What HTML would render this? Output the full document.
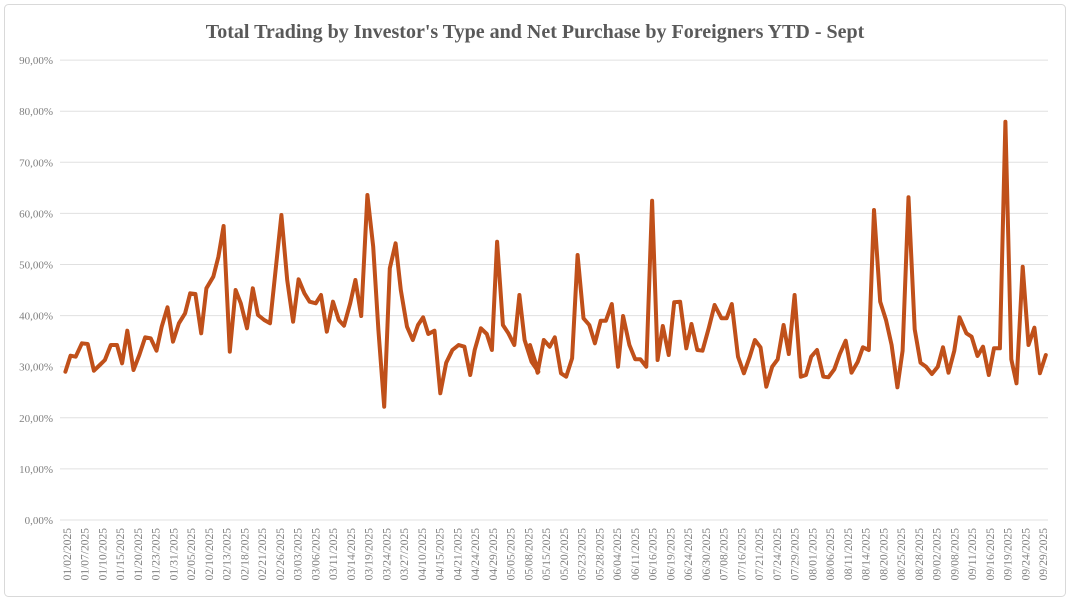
<!DOCTYPE html>
<html><head><meta charset="utf-8"><style>
html,body{margin:0;padding:0;background:#fff;width:1071px;height:602px;overflow:hidden}
svg{display:block}
</style></head><body>
<svg id="s" width="1071" height="602" xmlns="http://www.w3.org/2000/svg" font-family="Liberation Serif, serif">
<rect x="4.5" y="4.5" width="1061" height="592" rx="4" fill="#fff" stroke="#d9d9d9"/>
<text x="535" y="38" text-anchor="middle" font-size="20" font-weight="bold" fill="#595959">Total Trading by Investor's Type and Net Purchase by Foreigners YTD - Sept</text>
<g id="grid"></g><g id="xl"></g>
</svg>
<script>
var s=document.getElementById('grid'),h='';
for(var i=0;i<=9;i++){var y=520-i*51.1;
h+='<line x1="60" x2="1048" y1="'+y+'" y2="'+y+'" stroke="#e0e0e0" stroke-width="1"/>';
h+='<text x="53" y="'+(y+4)+'" text-anchor="end" font-size="11" fill="#7f7f7f">'+(i*10)+',00%</text>';}
var a=[190,575,205,527,220,530,238,490,255,492,273,572,290,555,305,540,322,495,340,495,355,550,370,452,388,570,405,525,422,472,438,475,455,512,470,440,487,382,503,485,520,430,538,400,553,340,568,342,585,460,600,325,620,290,635,230,650,138,668,515,685,330,700,370,718,445,735,325,750,405,768,420,785,430,818,105,835,300,852,425,868,298,885,340,900,365,918,370,933,345,950,455,968,365,985,420,1000,437,1018,370,1033,300,1050,408,1068,45,1085,200,1100,450,1117,680,1133,265,1150,190,1165,330,1183,440,1200,480,1215,435,1230,412,1245,462,1263,452,1280,640,1297,548,1315,510,1333,495,1350,500,1367,585,1380,510,1398,445,1415,462,1430,510,1445,185,1462,435,1478,460,1495,495,1510,345,1525,480,1545,545,1565,575];
var b=[0,735,22,818,40,720,57,740,72,712,90,820,105,830,122,775,138,465,155,655,172,675,188,730,205,662,220,662,237,612,255,800,270,648,288,735,305,778,320,778,337,800,354,302,370,780,385,678,402,765,418,607,435,605,453,745,468,672,485,750,500,752,518,685,535,615,555,655,570,655,585,612,603,770,620,820,637,770,652,720,668,742,685,860,702,800,718,778,735,675,750,762,767,585,785,830,800,825,815,770,832,750,850,830,865,832,882,808,898,762,915,722,932,818,950,785,965,742,982,750,997,330,1015,605,1032,660,1048,735,1065,862,1080,752,1097,292,1115,688,1132,788,1148,800,1165,822,1182,800,1197,742,1213,818,1230,752,1245,652,1265,700,1280,710,1297,768,1313,740,1330,825,1345,745,1362,745,1378,65,1395,778,1410,850,1428,500,1445,735,1462,683,1478,820,1495,765];
var p=[];for(i=0;i<a.length;i+=2)p.push((a[i]*0.344).toFixed(1)+','+(180+a[i+1]/3).toFixed(1));
for(i=0;i<b.length;i+=2)p.push((530+b[i]*0.345).toFixed(1)+','+(100+b[i+1]/3).toFixed(1));
h+='<polyline points="'+p.join(' ')+'" fill="none" stroke="#c0501a" stroke-width="4" stroke-linejoin="round" stroke-linecap="round"/>';
s.innerHTML=h;
var d="01/02 01/07 01/10 01/15 01/20 01/23 01/31 02/05 02/10 02/13 02/18 02/21 02/26 03/03 03/06 03/11 03/14 03/19 03/24 03/27 04/10 04/15 04/21 04/24 04/29 05/05 05/08 05/15 05/20 05/23 05/28 06/04 06/11 06/16 06/19 06/24 06/30 07/08 07/16 07/21 07/24 07/29 08/01 08/06 08/11 08/14 08/20 08/25 08/28 09/02 09/08 09/11 09/16 09/19 09/24 09/29".split(' ');
var x='';for(i=0;i<d.length;i++){var cx=67+i*(1043-67)/(d.length-1);
x+='<text transform="translate('+(cx+4)+',528) rotate(-90)" text-anchor="end" font-size="11.5" fill="#7f7f7f">'+d[i]+'/2025</text>';}
document.getElementById('xl').innerHTML=x;
</script>
</body></html>
